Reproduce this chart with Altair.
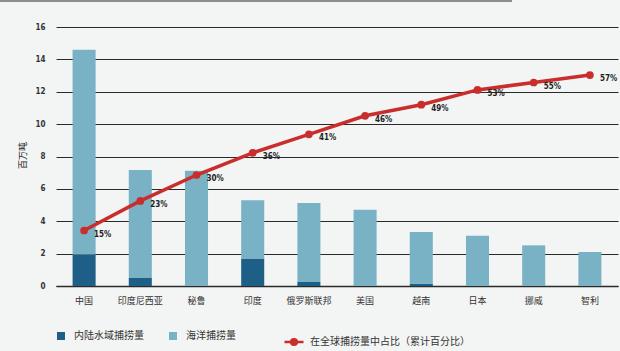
import altair as alt
import pandas as pd

countries = ["中国", "印度尼西亚", "秘鲁", "印度", "俄罗斯联邦", "美国", "越南", "日本", "挪威", "智利"]
inland = [1.95, 0.5, 0.0, 1.7, 0.25, 0.0, 0.15, 0.0, 0.0, 0.0]
marine = [12.65, 6.67, 7.12, 3.59, 4.88, 4.71, 3.19, 3.1, 2.51, 2.1]
cum_pct = [15, 23, 30, 36, 41, 46, 49, 53, 55, 57]

s_inland = "内陆水域捕捞量"
s_marine = "海洋捕捞量"
s_line = "在全球捕捞量中占比（累计百分比）"
y_ticks = [0, 2, 4, 6, 8, 10, 12, 14, 16]

bars_df = pd.DataFrame(
    {
        "country": countries * 2,
        "series": [s_inland] * len(countries) + [s_marine] * len(countries),
        "value": inland + marine,
        "ord": [0] * len(countries) + [1] * len(countries),
    }
)
line_df = pd.DataFrame(
    {
        "country": countries,
        "pct": cum_pct,
        "label": [f"{p}%" for p in cum_pct],
        "series": [s_line] * len(countries),
    }
)

CJK = "Noto Sans CJK SC"
NUM = "DejaVu Sans Condensed, Liberation Sans Narrow, Noto Sans, sans-serif"
DARK = "#1e5f87"
LIGHT = "#79b2c5"
RED = "#c92e2c"

xscale = alt.Scale(domain=countries, paddingInner=0.59, paddingOuter=0.295)
xaxis = alt.Axis(
    title=None,
    labelAngle=0,
    labelFont=CJK,
    labelFontSize=9,
    labelColor="#333333",
    labelPadding=10,
    ticks=False,
    domainColor="#2b2b2b",
    domainWidth=1.5,
    grid=False,
)

bars = (
    alt.Chart(bars_df)
    .mark_bar()
    .encode(
        x=alt.X("country:N", scale=xscale, axis=xaxis, sort=countries),
        y=alt.Y(
            "value:Q",
            stack="zero",
            scale=alt.Scale(domain=[0, 16], nice=False),
            axis=alt.Axis(
                title="百万吨",
                titleFont=CJK,
                titleFontSize=9,
                titleFontWeight="normal",
                titleColor="#222222",
                titleAngle=270,
                titleX=-34,
                titleY=128,
                titleAlign="center",
                titleBaseline="middle",
                values=y_ticks,
                labelFont=NUM,
                labelFontSize=8,
                labelFontWeight="bold",
                labelColor="#333333",
                labelPadding=11,
                ticks=False,
                domain=False,
                grid=True,
                gridColor="#2a2a2a",
                gridWidth=1,
            ),
        ),
        color=alt.Color(
            "series:N",
            scale=alt.Scale(domain=[s_inland, s_marine], range=[DARK, LIGHT]),
            legend=alt.Legend(
                title=None,
                orient="none",
                direction="horizontal",
                legendX=0,
                legendY=304,
                symbolType="square",
                symbolSize=64,
                symbolStrokeWidth=0,
                labelFont=CJK,
                labelFontSize=10,
                labelColor="#333333",
                labelOffset=8,
                columnPadding=24,
                padding=0,
            ),
        ),
        order=alt.Order("ord:Q"),
    )
)

yline = alt.Y("pct:Q", scale=alt.Scale(domain=[0, 70], nice=False), axis=None)

line = (
    alt.Chart(line_df)
    .mark_line(strokeWidth=3.5)
    .encode(
        x=alt.X("country:N", scale=xscale, sort=countries),
        y=yline,
        color=alt.Color(
            "series:N",
            scale=alt.Scale(domain=[s_line], range=[RED]),
            legend=alt.Legend(
                title=None,
                orient="none",
                direction="horizontal",
                legendX=227,
                legendY=304,
                symbolType="M-1,0H1M-0.3,0a0.3,0.3 0 1,0 0.6,0a0.3,0.3 0 1,0 -0.6,0",
                symbolSize=361,
                symbolStrokeWidth=2.5,
                symbolFillColor=RED,
                labelFont=CJK,
                labelFontSize=10,
                labelColor="#333333",
                labelOffset=5,
                padding=0,
            ),
        ),
    )
)

points = (
    alt.Chart(line_df)
    .mark_circle(size=60, color=RED, opacity=1)
    .encode(x=alt.X("country:N", scale=xscale, sort=countries), y=yline)
)

labels = (
    alt.Chart(line_df)
    .mark_text(
        align="left",
        baseline="middle",
        dx=10,
        dy=4,
        font=NUM,
        fontSize=8,
        fontWeight="bold",
        color="#222222",
    )
    .encode(x=alt.X("country:N", scale=xscale, sort=countries), y=yline, text="label:N")
)

topbar = (
    alt.Chart(line_df)
    .mark_rule(color="#8c8c8c", strokeWidth=2)
    .encode(x=alt.value(-56), x2=alt.value(456), y=alt.value(-26))
)

overlay = alt.layer(line, points, labels)

chart = (
    alt.layer(bars, overlay, topbar)
    .resolve_scale(y="independent", color="independent")
    .properties(
        width=562,
        height=259,
        autosize=alt.AutoSizeParams(type="none"),
        padding={"left": 56, "top": 27, "right": 2, "bottom": 65},
        background="#f3f4f4",
    )
    .configure_view(stroke=None)
    .configure_axis(titleColor="#222222")
)

chart.save("out.html", embed_options={"renderer": "svg", "actions": False})
